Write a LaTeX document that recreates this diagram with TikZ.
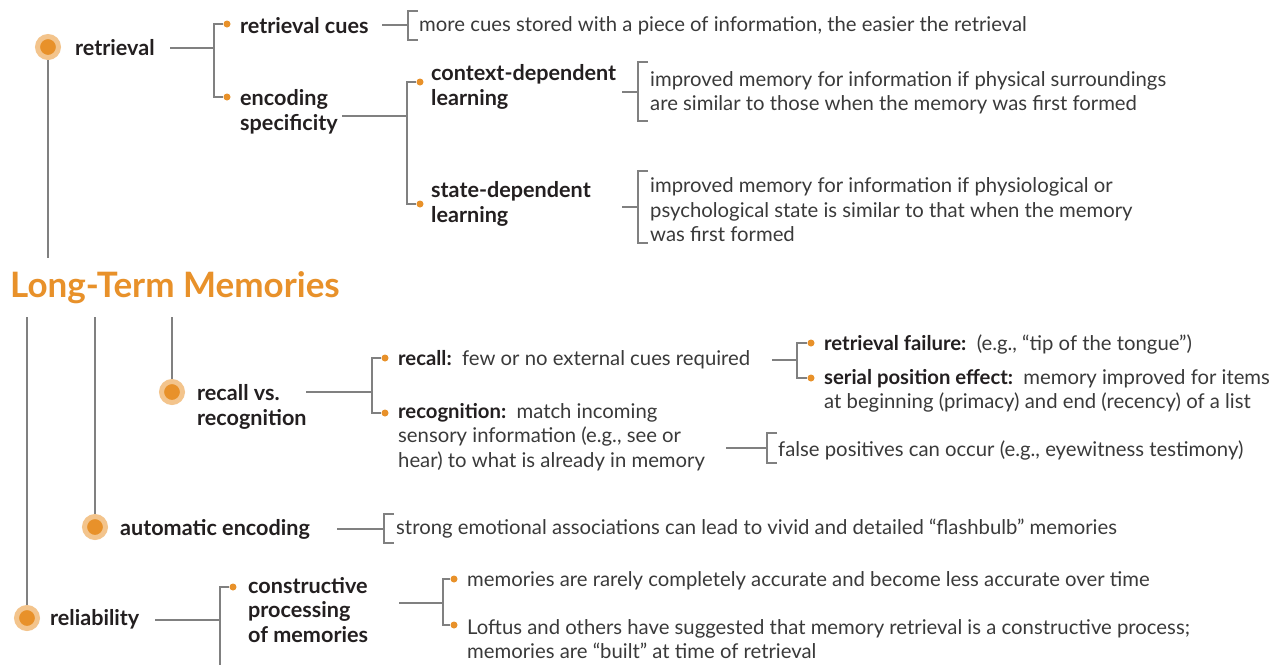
\documentclass[tikz,border=0pt]{standalone}
\usepackage{fontspec}
\setmainfont{Lato}
\definecolor{org}{HTML}{E8912A}
\definecolor{lorg}{HTML}{F3C48C}
\definecolor{lgray}{HTML}{808080}
\definecolor{txt}{HTML}{231F20}
\definecolor{btxt}{HTML}{3A3A3A}
\begin{document}
\begin{tikzpicture}[x=1pt,y=-1pt,
 ln/.style={draw=lgray,line width=1.1pt},
 lbl/.style={font=\fontsize{21.6}{24.5}\selectfont\bfseries, text=txt, anchor=west, inner sep=0pt, align=left},
 body/.style={font=\fontsize{20.3}{24.5}\selectfont, text=btxt, anchor=west, inner sep=0pt, align=left},
 ttl/.style={font=\fontsize{35}{38}\selectfont\bfseries, text=org, anchor=west, inner sep=0pt},
 dot/.style={circle, fill=org, inner sep=0pt, minimum size=7pt},
 big/.style={circle, fill=org, draw=lorg, line width=5pt, minimum size=21pt, inner sep=0pt}]
\useasboundingbox[fill=white] (0,0) rectangle (1288,665);

% main circles and title
\node[big] (cRet) at (48,47) {};
\node[big] (cRec) at (172,392) {};
\node[big] (cAuto) at (95,527) {};
\node[big] (cRel) at (27,618) {};
\node[ttl] (title) at (10,288) {Long-Term Memories};
\coordinate (tRet) at (48,258);
\coordinate (tRel) at (27,317);
\coordinate (tAuto) at (95,317);
\coordinate (tRec) at (172,317);
\draw[ln] (cRet) -- (tRet);
\draw[ln] (tRel) -- (cRel);
\draw[ln] (tAuto) -- (cAuto);
\draw[ln] (tRec) -- (cRec);

% ---------- retrieval ----------
\node[lbl] (ret) at (75,48) {retrieval};
\coordinate (a1) at (170,48);
\coordinate (a2) at (214,48);
\node[dot] (dCue) at (227,24) {};
\node[dot] (dEnc) at (227,97) {};
\draw[ln] (a1) -- (a2);
\draw[ln] (dCue) -| (a2) |- (dEnc);
\node[lbl] (cue) at (240,26) {retrieval cues};
\node[lbl] (enc) at (240,112) {encoding\\specificity};

% retrieval cues bracket
\coordinate (b1) at (382,25);
\coordinate (b2) at (408,25);
\draw[ln] (b1) -- (b2);
\draw[ln] (418,11) -- (408,11) -- (408,40) -- (418,40);
\node[body] (cueT) at (419,26) {more cues stored with a piece of information, the easier the retrieval};

% encoding specificity
\coordinate (e1) at (342,116);
\coordinate (e2) at (407,116);
\node[dot] (dCtx) at (420,82) {};
\node[dot] (dSt) at (420,204) {};
\draw[ln] (e1) -- (e2);
\draw[ln] (dCtx) -| (e2) |- (dSt);
\node[lbl] (ctx) at (431,87) {context-dependent\\learning};
\node[lbl] (st) at (431,204) {state-dependent\\learning};

\coordinate (c1) at (622,92);
\coordinate (c2) at (638,92);
\draw[ln] (c1) -- (c2);
\draw[ln] (648,62) -- (638,62) -- (638,121) -- (648,121);
\node[body] (ctxT) at (650,93) {improved memory for information if physical surroundings\\are similar to those when the memory was first formed};

\coordinate (s1) at (622,207);
\coordinate (s2) at (638,207);
\draw[ln] (s1) -- (s2);
\draw[ln] (648,171) -- (638,171) -- (638,243) -- (648,243);
\node[body] (stT) at (650,210) {improved memory for information if physiological or\\psychological state is similar to that when the memory\\was first formed};

% ---------- recall vs recognition ----------
\node[lbl] (rec) at (197,407) {recall vs.\\recognition};
\coordinate (r1) at (306,392);
\coordinate (r2) at (372,392);
\node[dot] (dRcl) at (385,358) {};
\node[dot] (dRcg) at (385,413) {};
\draw[ln] (r1) -- (r2);
\draw[ln] (dRcl) -| (r2) |- (dRcg);
\node[body] (rcl) at (398,360) {\textcolor{txt}{\bfseries recall:}\ \ few or no external cues required};
\node[body] (rcg) at (398,437) {\textcolor{txt}{\bfseries recognition:}\ \ match incoming\\sensory information (e.g., see or\\hear) to what is already in memory};

\coordinate (q1) at (772,360);
\coordinate (q2) at (797,360);
\node[dot] (dRf) at (811,343) {};
\node[dot] (dSp) at (811,378) {};
\draw[ln] (q1) -- (q2);
\draw[ln] (dRf) -| (q2) |- (dSp);
\node[body] (rf) at (824,344) {\textcolor{txt}{\bfseries retrieval failure:}\ \ (e.g., “tip of the tongue”)};
\node[body] (sp) at (824,391) {\textcolor{txt}{\bfseries serial position effect:}\ \ memory improved for items\\at beginning (primacy) and end (recency) of a list};

\coordinate (f1) at (726,448);
\coordinate (f2) at (767,448);
\draw[ln] (f1) -- (f2);
\draw[ln] (777,433) -- (767,433) -- (767,463) -- (777,463);
\node[body] (fp) at (778,450) {false positives can occur (e.g., eyewitness testimony)};

% ---------- automatic encoding ----------
\node[lbl] (auto) at (120,529) {automatic encoding};
\coordinate (u1) at (337,529);
\coordinate (u2) at (384,529);
\draw[ln] (u1) -- (u2);
\draw[ln] (394,514) -- (384,514) -- (384,543) -- (394,543);
\node[body] (autoT) at (396,529) {strong emotional associations can lead to vivid and detailed “flashbulb” memories};

% ---------- reliability ----------
\node[lbl] (rel) at (50,619) {reliability};
\coordinate (l1) at (155,620);
\coordinate (l2) at (220,620);
\coordinate (l3) at (220,665);
\node[dot] (dCon) at (233,587) {};
\draw[ln] (l1) -- (l2);
\draw[ln] (dCon) -| (l3);
\node[lbl] (con) at (248,610) {constructive\\processing\\of memories};

\coordinate (m1) at (399,603);
\coordinate (m2) at (443,603);
\node[dot] (dM1) at (454,579) {};
\node[dot] (dM2) at (454,625) {};
\draw[ln] (m1) -- (m2);
\draw[ln] (dM1) -| (m2) |- (dM2);
\node[body] (m1T) at (467,581) {memories are rarely completely accurate and become less accurate over time};
\node[body] (m2T) at (467,639) {Loftus and others have suggested that memory retrieval is a constructive process;\\memories are “built” at time of retrieval};
\end{tikzpicture}
\end{document}
